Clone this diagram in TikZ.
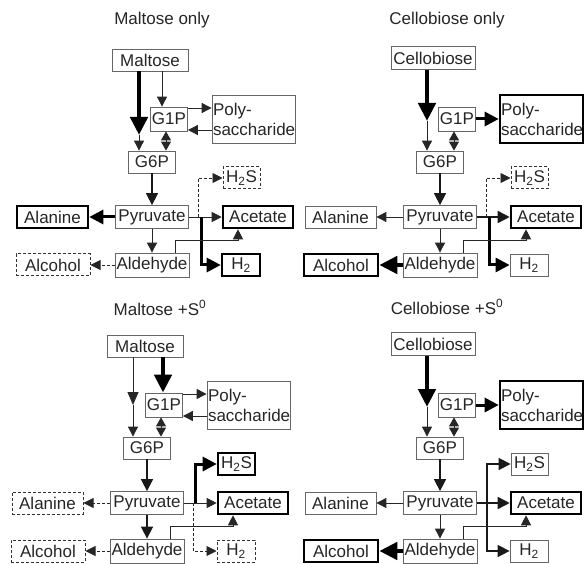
\documentclass[tikz,border=0pt]{standalone}
\usepackage{fontspec}
\setmainfont{Liberation Sans}
\usetikzlibrary{arrows.meta}

\tikzset{
  every node/.style={font=\fontsize{17pt}{20pt}\selectfont, text=black!85},
  box/.style={draw=black!60, line width=0.8pt, inner sep=0pt, minimum height=22pt},
  strong/.style={box, draw=black, line width=2.6pt},
  weak/.style={box, draw=black!80, line width=1pt, dash pattern=on 3pt off 2pt},
  thinflow/.style={draw=black!85, line width=0.9pt, -{Triangle[length=10pt,width=10pt]}},
  midhead/.style={draw=black!85, line width=0.9pt, -{Triangle[length=13pt,width=11pt]}},
  midflow/.style={draw=black!90, line width=1.6pt, -{Triangle[length=12pt,width=12pt]}},
  heavyflow/.style={draw=black, line width=3pt, -{Triangle[length=14pt,width=14pt]}},
  maxflow/.style={draw=black, line width=4.5pt, -{Triangle[length=18pt,width=17pt]}},
  twoway/.style={draw=black!85, line width=0.9pt, {Triangle[length=9pt,width=10pt]}-{Triangle[length=9pt,width=10pt]}},
  gone/.style={dash pattern=on 3pt off 2pt},
}

\begin{document}
\begin{tikzpicture}[x=1pt,y=-1pt]
\useasboundingbox[fill=white] (0,0) rectangle (584,564);

% maltose only
\begin{scope}[name prefix=ml-]
\node (Title) at (162,20) {Maltose only};
\node[box, minimum width=76pt] (Maltose) at (150,60) {Maltose};
\node[box, minimum width=37pt, minimum height=24pt] (G1P) at (169,119) {G1P};
\node[box, minimum width=83pt, minimum height=48pt, text width=81pt, align=left] (Poly) at (253.5,119) {Poly-\\saccharide};
\node[box, minimum width=47pt] (G6P) at (152,162) {G6P};
\node[weak, minimum width=37pt] (H2S) at (241.5,178) {H\textsubscript{2}S};
\node[box, minimum width=73pt, minimum height=23pt] (Pyruvate) at (152,217) {Pyruvate};
\node[strong, minimum width=71pt] (Alanine) at (52.5,217) {Alanine};
\node[strong, minimum width=70pt] (Acetate) at (258,217) {Acetate};
\node[box, minimum width=74pt, minimum height=24pt] (Aldehyde) at (152,265) {Aldehyde};
\node[weak, minimum width=74pt] (Alcohol) at (53,265) {Alcohol};
\node[strong, minimum width=38pt] (H2) at (241,265) {H\textsubscript{2}};
\coordinate (a) at (139,135);
\coordinate (b) at (162,0);
\coordinate (e) at (166,0);
\coordinate (u) at (0,108);
\coordinate (v) at (0,130);
\coordinate (d) at (198,217);
\coordinate (s) at (201,217);
\coordinate (k) at (175,240);
\coordinate (t) at (238,0);
\draw[maxflow] (Maltose.south -| a) -- (a);
\draw[thinflow] (a) -- (G6P.north -| a);
\draw[thinflow] (Maltose.south -| b) -- (G1P.north -| b);
\draw[thinflow] (G1P.east |- u) -- (Poly.west |- u);
\draw[thinflow] (Poly.west |- v) -- (G1P.east |- v);
\draw[twoway] (G1P.south -| e) -- (G6P.north -| e);
\draw[midflow] (G6P) -- (Pyruvate);
\draw[heavyflow] (Pyruvate) -- (Alanine);
\draw[thinflow] (Pyruvate) -- (Acetate);
\draw[heavyflow] (s) |- (H2);
\draw[thinflow, gone] (d) |- (H2S);
\draw[thinflow] (Aldehyde.north -| k) -- (k) -| (Acetate.south -| t);
\draw[thinflow] (Pyruvate) -- (Aldehyde);
\draw[thinflow, gone] (Aldehyde) -- (Alcohol);
\end{scope}

% cellobiose only
\begin{scope}[shift={(288,0)}, name prefix=cl-]
\node (Title) at (159,20) {Cellobiose only};
\node[box, minimum width=84pt, minimum height=23pt] (Cellobiose) at (145,58) {Cellobiose};
\node[box, minimum width=37pt, minimum height=24pt] (G1P) at (169,119) {G1P};
\node[strong, minimum width=83pt, minimum height=48pt, text width=81pt, align=left] (Poly) at (253.5,119) {Poly-\\saccharide};
\node[box, minimum width=47pt] (G6P) at (152,162) {G6P};
\node[weak, minimum width=37pt] (H2S) at (241.5,178) {H\textsubscript{2}S};
\node[box, minimum width=73pt, minimum height=23pt] (Pyruvate) at (152,217) {Pyruvate};
\node[box, minimum width=71pt] (Alanine) at (52.5,217) {Alanine};
\node[strong, minimum width=70pt] (Acetate) at (258,217) {Acetate};
\node[box, minimum width=74pt, minimum height=24pt] (Aldehyde) at (152,265) {Aldehyde};
\node[strong, minimum width=74pt] (Alcohol) at (53,265) {Alcohol};
\node[box, minimum width=38pt] (H2) at (241,265) {H\textsubscript{2}};
\coordinate (a) at (139,121);
\coordinate (e) at (166,0);
\coordinate (d) at (198,217);
\coordinate (s) at (201,217);
\coordinate (k) at (175,240);
\coordinate (t) at (238,0);
\draw[maxflow] (Cellobiose.south -| a) -- (a);
\draw[thinflow] (a) -- (G6P.north -| a);
\draw[heavyflow] (G1P) -- (Poly);
\draw[twoway] (G1P.south -| e) -- (G6P.north -| e);
\draw[midflow] (G6P) -- (Pyruvate);
\draw[thinflow] (Pyruvate) -- (Alanine);
\draw[midflow] (Pyruvate) -- (Acetate);
\draw[heavyflow] (s) |- (H2);
\draw[thinflow, gone] (d) |- (H2S);
\draw[thinflow] (Aldehyde.north -| k) -- (k) -| (Acetate.south -| t);
\draw[thinflow] (Pyruvate) -- (Aldehyde);
\draw[maxflow] (Aldehyde) -- (Alcohol);
\end{scope}

% maltose + sulfur
\begin{scope}[shift={(-5,286)}, name prefix=ms-]
\node (Title) at (165,22) {Maltose +S\textsuperscript{0}};
\node[box, minimum width=76pt] (Maltose) at (150,60) {Maltose};
\node[box, minimum width=37pt, minimum height=24pt] (G1P) at (169,119) {G1P};
\node[box, minimum width=83pt, minimum height=48pt, text width=81pt, align=left] (Poly) at (253.5,119) {Poly-\\saccharide};
\node[box, minimum width=47pt] (G6P) at (152,162) {G6P};
\node[strong, minimum width=37pt] (H2S) at (241.5,178) {H\textsubscript{2}S};
\node[box, minimum width=73pt, minimum height=23pt] (Pyruvate) at (152,217) {Pyruvate};
\node[weak, minimum width=71pt] (Alanine) at (52.5,217) {Alanine};
\node[strong, minimum width=70pt] (Acetate) at (258,217) {Acetate};
\node[box, minimum width=74pt, minimum height=24pt] (Aldehyde) at (152,265) {Aldehyde};
\node[weak, minimum width=74pt] (Alcohol) at (53,265) {Alcohol};
\node[weak, minimum width=38pt] (H2) at (241,265) {H\textsubscript{2}};
\coordinate (a) at (138,119);
\coordinate (b) at (168,0);
\coordinate (e) at (166,0);
\coordinate (u) at (0,108);
\coordinate (v) at (0,130);
\coordinate (d) at (198,217);
\coordinate (s) at (200,217);
\coordinate (k) at (175,240);
\coordinate (t) at (238,0);
\draw[midhead] (Maltose.south -| a) -- (a);
\draw[thinflow] (a) -- (G6P.north -| a);
\draw[maxflow] (Maltose.south -| b) -- (G1P.north -| b);
\draw[thinflow] (G1P.east |- u) -- (Poly.west |- u);
\draw[thinflow] (Poly.west |- v) -- (G1P.east |- v);
\draw[twoway] (G1P.south -| e) -- (G6P.north -| e);
\draw[midflow] (G6P) -- (Pyruvate);
\draw[thinflow, gone] (Pyruvate) -- (Alanine);
\draw[thinflow] (Pyruvate) -- (Acetate);
\draw[heavyflow] (s) |- (H2S);
\draw[thinflow, gone] (d) |- (H2);
\draw[thinflow] (Aldehyde.north -| k) -- (k) -| (Acetate.south -| t);
\draw[midflow] (Pyruvate) -- (Aldehyde);
\draw[thinflow, gone] (Aldehyde) -- (Alcohol);
\end{scope}

% cellobiose + sulfur
\begin{scope}[shift={(288,286)}, name prefix=cs-]
\node (Title) at (159,21) {Cellobiose +S\textsuperscript{0}};
\node[box, minimum width=84pt, minimum height=23pt] (Cellobiose) at (145,58) {Cellobiose};
\node[box, minimum width=37pt, minimum height=24pt] (G1P) at (169,119) {G1P};
\node[strong, minimum width=83pt, minimum height=48pt, text width=81pt, align=left] (Poly) at (253.5,119) {Poly-\\saccharide};
\node[box, minimum width=47pt] (G6P) at (152,162) {G6P};
\node[box, minimum width=37pt] (H2S) at (241.5,178) {H\textsubscript{2}S};
\node[box, minimum width=73pt, minimum height=23pt] (Pyruvate) at (152,217) {Pyruvate};
\node[box, minimum width=71pt] (Alanine) at (52.5,217) {Alanine};
\node[strong, minimum width=70pt] (Acetate) at (258,217) {Acetate};
\node[box, minimum width=74pt, minimum height=24pt] (Aldehyde) at (152,265) {Aldehyde};
\node[strong, minimum width=74pt] (Alcohol) at (53,265) {Alcohol};
\node[box, minimum width=38pt] (H2) at (241,265) {H\textsubscript{2}};
\coordinate (a) at (139,121);
\coordinate (e) at (166,0);
\coordinate (s) at (199,217);
\coordinate (k) at (175,240);
\coordinate (t) at (238,0);
\draw[maxflow] (Cellobiose.south -| a) -- (a);
\draw[thinflow] (a) -- (G6P.north -| a);
\draw[heavyflow] (G1P) -- (Poly);
\draw[twoway] (G1P.south -| e) -- (G6P.north -| e);
\draw[midflow] (G6P) -- (Pyruvate);
\draw[thinflow] (Pyruvate) -- (Alanine);
\draw[midflow] (Pyruvate) -- (Acetate);
\draw[midflow] (s) |- (H2S);
\draw[midflow] (s) |- (H2);
\draw[thinflow] (Aldehyde.north -| k) -- (k) -| (Acetate.south -| t);
\draw[thinflow] (Pyruvate) -- (Aldehyde);
\draw[maxflow] (Aldehyde) -- (Alcohol);
\end{scope}
\end{tikzpicture}
\end{document}
